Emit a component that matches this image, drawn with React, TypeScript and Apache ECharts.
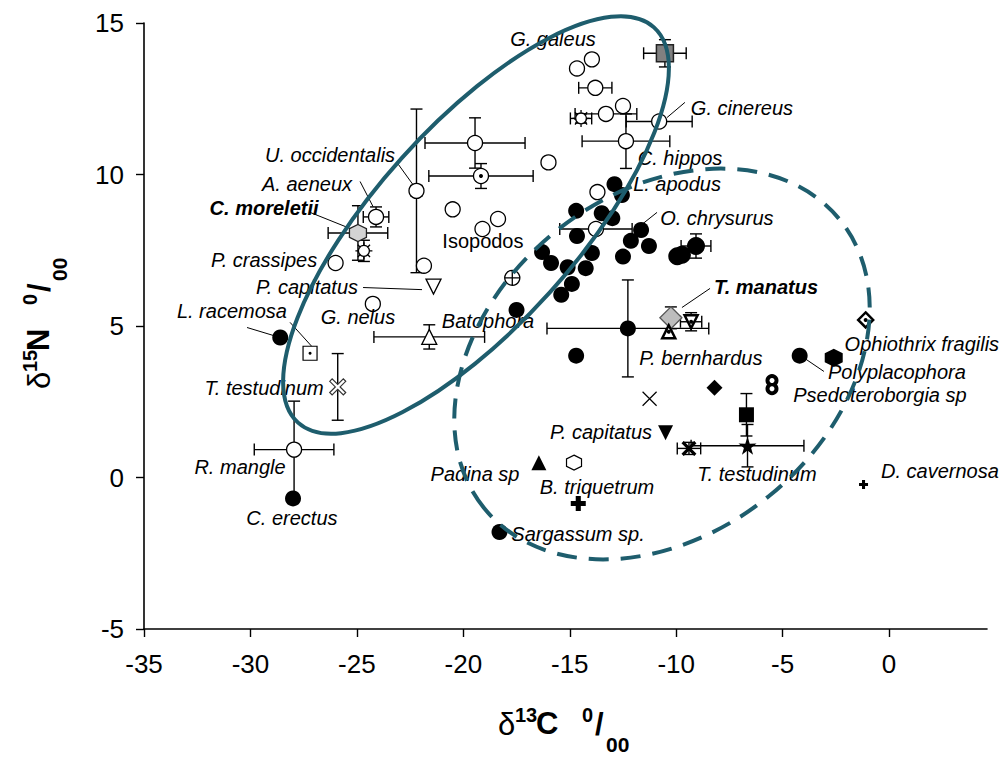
import React, { useEffect, useRef } from "react";
import * as echarts from "echarts";

const xTicks = [-35, -30, -25, -20, -15, -10, -5, 0];
const yTicks = [-5, 0, 5, 10, 15];

// [x, y, xErr, yErr]
const openCircles = [
  [-19.45, 11.04, 2.35, 0.83],
  [-22.2, 9.46, 0.25, 2.7],
  [-21.85, 6.99, 0, 0],
  [-20.5, 8.85, 0, 0],
  [-16.0, 10.4, 0, 0],
  [-18.37, 8.53, 0, 0],
  [-19.1, 8.2, 0, 0],
  [-24.1, 8.6, 0.6, 0.33],
  [-26.0, 7.08, 0, 0],
  [-24.25, 5.73, 0, 0],
  [-14.66, 13.5, 0, 0],
  [-13.96, 13.8, 0, 0],
  [-13.8, 12.86, 0.78, 0.12],
  [-12.5, 12.26, 0, 0],
  [-13.3, 12.0, 1.45, 0.15],
  [-10.8, 11.75, 1.55, 0],
  [-12.36, 11.1, 2.06, 0.9],
  [-13.7, 9.42, 0, 0],
  [-13.77, 8.2, 1.7, 0.15],
  [-27.95, 0.92, 1.87, 1.6],
];
const dotCircles = [[-19.17, 9.95, 2.45, 0.41]];
const crossCircles = [[-17.7, 6.59, 0, 0]];
const sunCircles = [
  [-24.67, 7.48, 0, 0.35],
  [-14.47, 11.85, 0.5, 0.15],
];
const grayHexagons = [[-24.95, 8.07, 1.4, 0.9]];
const blackDots = [
  [-28.6, 4.62, 0, 0],
  [-28.0, -0.69, 0, 0],
  [-12.9, 9.68, 0, 0],
  [-12.55, 9.32, 0, 0],
  [-14.7, 8.8, 0, 0],
  [-13.5, 8.72, 0, 0],
  [-13.0, 8.56, 0, 0],
  [-14.66, 7.97, 0, 0],
  [-11.65, 8.17, 0, 0],
  [-12.13, 7.81, 0, 0],
  [-11.28, 7.64, 0, 0],
  [-12.5, 7.29, 0, 0],
  [-13.96, 7.41, 0, 0],
  [-16.3, 7.44, 0, 0],
  [-15.88, 7.08, 0, 0],
  [-15.1, 6.94, 0, 0],
  [-14.25, 6.91, 0, 0],
  [-14.9, 6.39, 0, 0],
  [-15.4, 6.03, 0, 0],
  [-17.5, 5.53, 0, 0],
  [-12.27, 4.92, 3.8, 1.6],
  [-14.7, 4.02, 0, 0],
  [-4.2, 4.02, 0, 0],
  [-18.3, -1.8, 0, 0],
];
const bigBlackDots = [
  [-9.95, 7.3, 0, 0],
  [-9.73, 7.35, 0, 0],
  [-9.07, 7.64, 0.7, 0.4],
];
const grayDiamonds = [[-10.25, 5.27, 0, 0.36]];
const graySquares = [[-10.53, 14.0, 1.0, 0.45]];
const openTriangles = [[-21.6, 4.64, 2.6, 0.4]];
const dotTriangles = [[-10.35, 4.81, 0, 0]];
const openDownTriangles = [[-21.4, 6.3, 0, 0]];
const dotDownTriangles = [[-9.3, 5.14, 0.5, 0.3]];
const blackDownTriangles = [[-10.5, 1.48, 0, 0]];
const blackTriangles = [[-16.45, 0.49, 0, 0]];
const openHexagons = [[-14.8, 0.49, 0, 0]];
const blackHexagons = [[-2.6, 3.95, 0, 0]];
const blackDiamonds = [[-8.2, 2.96, 0, 0]];
const dotDiamonds = [[-1.1, 5.2, 0, 0]];
const blackSquares = [[-6.7, 2.07, 0, 0.7]];
const dotSquares = [[-27.2, 4.1, 0, 0]];
const stars = [[-6.65, 1.05, 2.65, 0.7]];
const boldCrosses = [[-9.4, 0.96, 0.55, 0.2]];
const thinCrosses = [[-11.25, 2.6, 0, 0]];
const hollowCrosses = [[-25.9, 2.99, 0, 1.1]];
const heavyPluses = [[-14.6, -0.86, 0, 0]];
const smallPluses = [[-1.2, -0.23, 0, 0]];
const ringDots = [
  [-5.5, 2.93, 0, 0],
  [-5.5, 3.2, 0, 0],
];

// [text, x, y, style]  style: i = italic, bi = bold italic, n = normal
const labels: [string, number, number, string][] = [
  ["T. truncatus", -6.49, 15.02, "bi"],
  ["G. galeus", -15.79, 14.46, "i"],
  ["G. cinereus", -6.91, 12.21, "i"],
  ["C. hippos", -9.82, 10.56, "i"],
  ["L. apodus", -9.96, 9.7, "i"],
  ["O. chrysurus", -8.09, 8.58, "i"],
  ["T. manatus", -5.78, 6.3, "bi"],
  ["U. occidentalis", -26.26, 10.66, "i"],
  ["A. aeneux", -27.34, 9.7, "i"],
  ["C. moreletii", -29.36, 8.91, "bi"],
  ["P. crassipes", -29.36, 7.19, "i"],
  ["P. capitatus", -27.34, 6.3, "i"],
  ["L. racemosa", -30.87, 5.48, "i"],
  ["G. nelus", -24.95, 5.31, "i"],
  ["Isopodos", -19.08, 7.82, "n"],
  ["Batophora", -18.84, 5.15, "i"],
  ["T. testudinum", -29.36, 2.97, "i"],
  ["R. mangle", -30.49, 0.36, "i"],
  ["C. erectus", -28.05, -1.35, "i"],
  ["Padina sp", -19.45, 0.1, "i"],
  ["Sargassum sp.", -14.61, -1.85, "i"],
  ["B. triquetrum", -13.72, -0.33, "i"],
  ["P. capitatus", -13.53, 1.49, "i"],
  ["P. bernhardus", -8.84, 3.93, "i"],
  ["T. testudinum", -6.21, 0.1, "i"],
  ["D. cavernosa", 2.39, 0.2, "i"],
  ["Ophiothrix fragilis", 1.54, 4.39, "i"],
  ["Polyplacophora", 0.37, 3.47, "i"],
  ["Psedoteroborgia sp", -0.43, 2.71, "i"],
];

// [x1, y1, x2, y2]
const leaders = [
  [-23.12, 10.4, -22.37, 9.67],
  [-24.85, 9.77, -24.24, 8.94],
  [-27.2, 8.75, -25.18, 8.18],
  [-24.71, 6.27, -21.94, 6.2],
  [-30.16, 4.95, -28.75, 4.65],
  [-28.14, 5.12, -27.11, 4.32],
  [-9.59, 12.38, -10.43, 11.88],
  [-10.9, 8.75, -11.56, 8.38],
  [-8.41, 6.24, -9.73, 5.61],
  [-4.09, 3.99, -3.06, 3.5],
];

const HEX = "path://M50 0 L93.3 25 L93.3 75 L50 100 L6.7 75 L6.7 25 Z";
const STAR =
  "path://M50 0 L61.8 35.4 L97.6 34.5 L69 56.5 L79.4 90.5 L50 70 L20.6 90.5 L31 56.5 L2.4 34.5 L38.2 35.4 Z";
const SUN =
  "path://M50 18 A32 32 0 1 1 49.9 18 Z M50 0 L50 18 M50 82 L50 100 M0 50 L18 50 M82 50 L100 50 M14 14 L27 27 M73 73 L86 86 M86 14 L73 27 M14 86 L27 73";
const XMARK = "path://M0 0 L100 100 M100 0 L0 100";
const BOLDX =
  "path://M0 15 L15 0 L50 35 L85 0 L100 15 L65 50 L100 85 L85 100 L50 65 L15 100 L0 85 L35 50 Z";
const PLUS = "path://M33 0 H67 V33 H100 V67 H67 V100 H33 V67 H0 V33 H33 Z";
const CROSSC =
  "path://M50 0 A50 50 0 1 1 49.9 0 Z M50 0 L50 100 M0 50 L100 50";

const TEAL = "#1e5d6d";
const FONT = "'Liberation Sans', Arial, sans-serif";

function pts(arr: number[][]) {
  return arr.map((d) => [d[0], d[1]]);
}

function sc(
  data: number[][],
  symbol: string,
  size: number,
  color: string,
  border: string,
  bw: number,
  extra: any = {}
) {
  return {
    type: "scatter",
    data: pts(data),
    symbol,
    symbolSize: size,
    itemStyle: { color, borderColor: border, borderWidth: bw, opacity: 1 },
    silent: true,
    z: 5,
    ...extra,
  };
}

function titleGroup(
  cx: number,
  cy: number,
  rot: number,
  main: string,
  sup: string
) {
  const t = (text: string, x: number, y: number, size: number, bold = true) => ({
    type: "text",
    x,
    y,
    style: {
      text,
      fill: "#000",
      font: `${bold ? "bold " : ""}${size}px ${FONT}`,
      align: "left",
      verticalAlign: "middle",
    },
  });
  return {
    type: "group",
    x: cx,
    y: cy,
    rotation: rot,
    children: [
      t("δ", -67, 1, 31, false),
      t(sup, -50, -8, 20),
      t(main, -29, 0, 31),
      t("0", 17, -8, 20),
      t("/", 30, 1, 31),
      t("00", 41, 21, 21),
    ],
  };
}

export default function App() {
  const ref = useRef<HTMLDivElement>(null);
  useEffect(() => {
    document.body.style.margin = "0";
    const chart = echarts.init(ref.current!, undefined, { renderer: "svg" });

    const errorSets = [
      openCircles,
      dotCircles,
      sunCircles,
      grayHexagons,
      blackDots,
      bigBlackDots,
      grayDiamonds,
      graySquares,
      openTriangles,
      dotDownTriangles,
      blackSquares,
      stars,
      boldCrosses,
      hollowCrosses,
    ];
    const errorData = errorSets
      .flat()
      .filter((d) => d[2] > 0 || d[3] > 0);

    const option: any = {
      animation: false,
      backgroundColor: "#fff",
      grid: { left: 144, right: 19, top: 23, bottom: 131, containLabel: false },
      xAxis: {
        type: "value",
        min: -35,
        max: 4.6,
        interval: 5,
        splitLine: { show: false },
        axisLine: { onZero: false, lineStyle: { color: "#000", width: 1.6 } },
        axisTick: {
          length: 8,
          customValues: xTicks,
          lineStyle: { color: "#000", width: 1.4 },
        },
        axisLabel: {
          customValues: xTicks,
          fontSize: 26,
          fontFamily: FONT,
          color: "#000",
          margin: 22,
        },
      },
      yAxis: {
        type: "value",
        min: -5,
        max: 15,
        interval: 5,
        splitLine: { show: false },
        axisLine: { onZero: false, lineStyle: { color: "#000", width: 1.6 } },
        axisTick: {
          length: 8,
          customValues: yTicks,
          lineStyle: { color: "#000", width: 1.4 },
        },
        axisLabel: {
          customValues: yTicks,
          fontSize: 26,
          fontFamily: FONT,
          color: "#000",
          margin: 20,
        },
      },
      series: [
        {
          type: "custom",
          data: errorData,
          encode: { x: 0, y: 1 },
          silent: true,
          z: 3,
          renderItem: (params: any, api: any) => {
            const x = api.value(0);
            const y = api.value(1);
            const ex = api.value(2);
            const ey = api.value(3);
            const c = api.coord([x, y]);
            const cap = 6;
            const style = { stroke: "#000", lineWidth: 1.4 };
            const ch: any[] = [];
            const ln = (x1: number, y1: number, x2: number, y2: number) =>
              ch.push({ type: "line", shape: { x1, y1, x2, y2 }, style });
            if (ex > 0) {
              const l = api.coord([x - ex, y])[0];
              const r = api.coord([x + ex, y])[0];
              ln(l, c[1], r, c[1]);
              ln(l, c[1] - cap, l, c[1] + cap);
              ln(r, c[1] - cap, r, c[1] + cap);
            }
            if (ey > 0) {
              const t = api.coord([x, y + ey])[1];
              const b = api.coord([x, y - ey])[1];
              ln(c[0], t, c[0], b);
              ln(c[0] - cap, t, c[0] + cap, t);
              ln(c[0] - cap, b, c[0] + cap, b);
            }
            return { type: "group", children: ch };
          },
        },
        {
          type: "custom",
          data: leaders,
          encode: { x: [0, 2], y: [1, 3] },
          silent: true,
          z: 3,
          renderItem: (params: any, api: any) => {
            const a = api.coord([api.value(0), api.value(1)]);
            const b = api.coord([api.value(2), api.value(3)]);
            return {
              type: "line",
              shape: { x1: a[0], y1: a[1], x2: b[0], y2: b[1] },
              style: { stroke: "#000", lineWidth: 1 },
            };
          },
        },
        sc(openCircles, "circle", 15, "#fff", "#000", 1.3),
        sc(dotCircles, "circle", 15, "#fff", "#000", 1.3),
        sc(dotCircles, "circle", 4, "#000", "#000", 0, { z: 6 }),
        sc(crossCircles, CROSSC, 15, "#fff", "#000", 1.3),
        sc(sunCircles, SUN, 17, "#fff", "#000", 1.3),
        sc(grayHexagons, HEX, 17, "#d4d4d4", "#222", 1.3),
        sc(blackDots, "circle", 16, "#000", "#000", 0),
        sc(bigBlackDots, "circle", 18, "#000", "#000", 0),
        sc(grayDiamonds, "diamond", 22, "#bdbdbd", "#555", 1.3),
        sc(graySquares, "rect", 17, "#808080", "#222", 1.5),
        sc(openTriangles, "triangle", 15, "#fff", "#000", 1.3),
        sc(dotTriangles, "triangle", 13, "#fff", "#000", 2.5),
        sc(dotTriangles, "circle", 4, "#000", "#000", 0, { z: 6 }),
        sc(openDownTriangles, "triangle", 15, "#fff", "#000", 1.3, {
          symbolRotate: 180,
        }),
        sc(dotDownTriangles, "triangle", 13, "#fff", "#000", 2.5, {
          symbolRotate: 180,
        }),
        sc(dotDownTriangles, "circle", 4, "#000", "#000", 0, { z: 6 }),
        sc(blackDownTriangles, "triangle", 15, "#000", "#000", 0, {
          symbolRotate: 180,
        }),
        sc(blackTriangles, "triangle", 15, "#000", "#000", 0),
        sc(openHexagons, HEX, 15, "#fff", "#000", 1.2),
        sc(blackHexagons, HEX, 18, "#000", "#000", 0),
        sc(blackDiamonds, "diamond", 16, "#000", "#000", 0),
        sc(dotDiamonds, "diamond", 15, "#fff", "#000", 2.5),
        sc(dotDiamonds, "circle", 4, "#000", "#000", 0, { z: 6 }),
        sc(blackSquares, "rect", 15, "#000", "#000", 0),
        sc(dotSquares, "rect", 14, "#fff", "#000", 1.2),
        sc(dotSquares, "circle", 3, "#000", "#000", 0, { z: 6 }),
        sc(stars, STAR, 18, "#000", "#000", 0),
        sc(boldCrosses, BOLDX, 15, "#000", "#000", 0),
        sc(thinCrosses, XMARK, 14, "none", "#000", 1.2),
        sc(hollowCrosses, BOLDX, 16, "#fff", "#333", 1.2),
        sc(heavyPluses, PLUS, 15, "#000", "#000", 0),
        sc(smallPluses, PLUS, 9, "#000", "#000", 0),
        sc(ringDots, "circle", 13, "#000", "#000", 0),
        sc(ringDots, "circle", 5, "#fff", "#fff", 0, { z: 6 }),
        {
          type: "scatter",
          symbol: "circle",
          symbolSize: 0.5,
          itemStyle: { color: "#ffffff", opacity: 1 },
          silent: true,
          z: 8,
          data: labels.map((l) => ({
            value: [l[1], l[2]],
            label: {
              show: true,
              position: "inside",
              formatter: l[0],
              fontSize: 20,
              fontFamily: FONT,
              color: "#000",
              opacity: 1,
              textBorderWidth: 0,
              fontStyle: l[3] === "n" ? "normal" : "italic",
              fontWeight: l[3] === "bi" ? "bold" : "normal",
            },
          })),
        },
      ],
      graphic: [
        {
          type: "ellipse",
          x: 476,
          y: 225,
          rotation: (48 * Math.PI) / 180,
          shape: { cx: 0, cy: 0, rx: 266, ry: 100 },
          style: { fill: "none", stroke: TEAL, lineWidth: 4 },
          z: 100,
          silent: true,
        },
        {
          type: "ellipse",
          x: 662,
          y: 364,
          rotation: (38.9 * Math.PI) / 180,
          shape: { cx: 0, cy: 0, rx: 229, ry: 170 },
          style: { fill: "none", stroke: TEAL, lineWidth: 4, lineDash: [20, 12] },
          z: 100,
          silent: true,
        },
        { ...titleGroup(565, 723, 0, "C", "13"), z: 100 },
        { ...titleGroup(38, 322, Math.PI / 2, "N", "15"), z: 100 },
      ],
    };
    chart.setOption(option);
    return () => chart.dispose();
  }, []);
  return <div ref={ref} style={{ width: 1006, height: 760 }} />;
}
